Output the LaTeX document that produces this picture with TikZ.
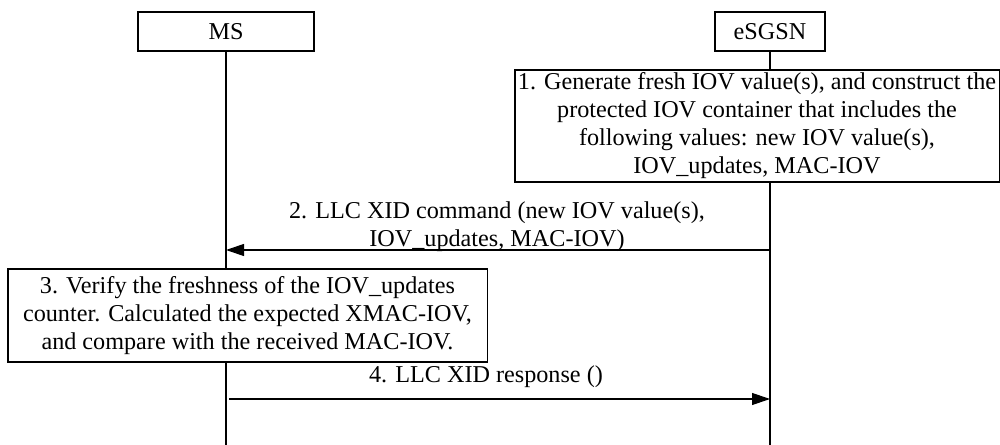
\documentclass[tikz,border=0pt]{standalone}
\usepackage{fontspec}
\setmainfont{Liberation Serif}
\usetikzlibrary{arrows.meta,positioning}

\begin{document}
\begin{tikzpicture}[
	x=0.025cm,y=-0.025cm,
	every node/.style={font=\fontsize{17.2}{19.9}\selectfont,align=center},
	entity/.style={draw,line width=0.8pt,fill=white,minimum height=0.975cm,inner sep=0pt},
	action/.style={draw,line width=0.8pt,fill=white,inner sep=0pt},
	life/.style={line width=0.8pt},
	msg/.style={-{Triangle[length=4.5mm,width=3mm]},line width=0.8pt}
	]
	\useasboundingbox (0,0) rectangle (1000,445);
	% entities and lifelines
	\node[entity,minimum width=4.4cm] (ms) at (226,31.5) {MS};
	\node[entity,minimum width=2.75cm] (sgsn) at (770,31.5) {eSGSN};
	\coordinate (msend) at (226,445);
	\coordinate (sgsnend) at (770,445);
	\draw[life] (ms) -- (msend);
	\draw[life] (sgsn) -- (sgsnend);
	% steps
	\node[action,minimum width=12.1cm,minimum height=2.8cm] (gen) at (757,126)
		{1. Generate fresh IOV value(s), and construct the\\protected IOV container that includes the\\following values: new IOV value(s),\\IOV\_updates, MAC-IOV};
	\coordinate (cmdfrom) at (770,250);
	\coordinate (cmdto) at (226,250);
	\draw[msg] (cmdfrom) -- (cmdto);
	\node (cmdlbl) at (497,227) {2. LLC XID command (new IOV value(s),\\IOV\_updates, MAC-IOV)};
	\node[action,minimum width=11.975cm,minimum height=2.325cm] (verify) at (247.5,315.5)
		{3. Verify the freshness of the IOV\_updates\\counter. Calculated the expected XMAC-IOV,\\and compare with the received MAC-IOV.};
	\coordinate (rspfrom) at (229,399);
	\coordinate (rspto) at (770,399);
	\draw[msg] (rspfrom) -- (rspto);
	\node (rsplbl) at (486,377) {4. LLC XID response ()};
\end{tikzpicture}
\end{document}
